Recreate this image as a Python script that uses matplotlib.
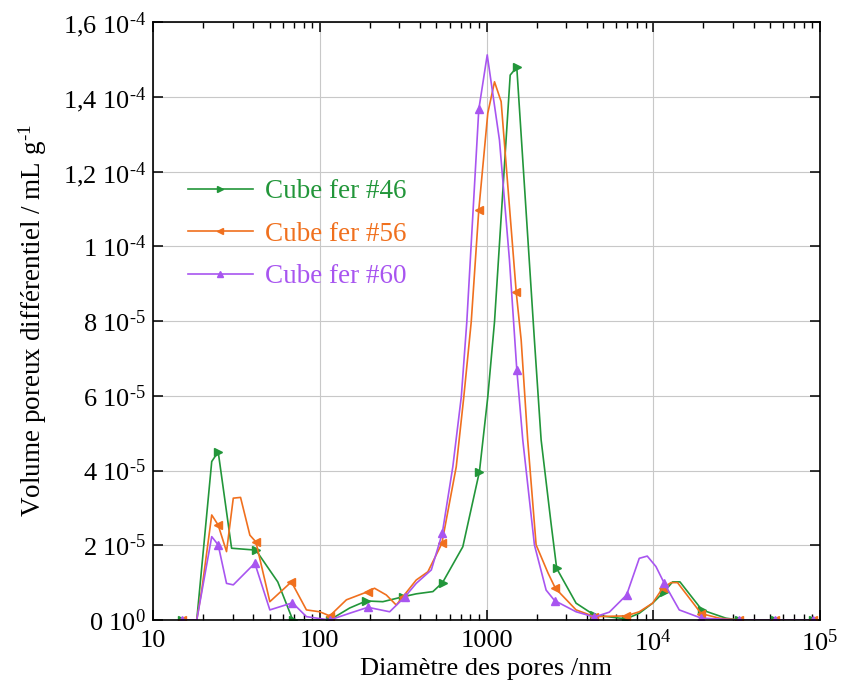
import numpy as np
import matplotlib
matplotlib.use("Agg")
import matplotlib.pyplot as plt
from matplotlib.ticker import LogLocator, NullFormatter

plt.rcParams['font.family'] = ['Liberation Serif', 'DejaVu Serif']
plt.rcParams['mathtext.fontset'] = 'custom'
plt.rcParams['mathtext.rm'] = 'Liberation Serif'
plt.rcParams['mathtext.default'] = 'regular'

# pore diameter (nm) and differential volume (x 1e-5 mL/g)
d46 = [15, 18.3, 22.5, 24.6, 29.6, 41.4, 56.0, 68.9, 114.8, 151, 190, 239, 315, 379, 477,
       545, 721, 907, 1018, 1117, 1387, 1519, 1938, 2126, 2438, 2636, 3445, 4436, 6864,
       8243, 9909, 11650, 13060, 14460, 19570, 27230, 32500, 54000, 90200]
v46 = [0, 0, 4.24, 4.50, 1.92, 1.87, 1.02, 0, 0, 0.32, 0.51, 0.49, 0.62, 0.70, 0.76,
       1.00, 1.96, 3.97, 5.97, 7.98, 14.58, 14.79, 7.49, 4.82, 2.59, 1.38, 0.45, 0.13, 0.03,
       0.18, 0.45, 0.76, 1.02, 1.02, 0.27, 0.05, 0, 0, 0]
m46 = [0, 3, 5, 7, 8, 10, 12, 15, 17, 21, 25, 27, 28, 31, 34, 36, 37, 38]

d56 = [15, 18.3, 19.6, 22.5, 24.6, 27.6, 30.3, 33.5, 38.1, 41.4, 50.2, 67.6, 83.2, 100,
       114.8, 144.5, 194.5, 213, 250.6, 287.6, 315, 379, 445, 540, 658.5, 731, 810, 899,
       1018, 1117, 1224, 1507, 1614, 1766, 1984, 2342, 2588, 3445, 4436, 6864, 8243, 9909,
       11370, 12760, 13980, 19400, 24850, 32500, 54000, 90200]
v56 = [0, 0, 0.80, 2.81, 2.54, 1.83, 3.26, 3.28, 2.27, 2.09, 0.49, 1.02, 0.27, 0.22,
       0.11, 0.54, 0.76, 0.85, 0.67, 0.40, 0.62, 1.07, 1.29, 2.05, 4.10, 5.97, 7.98, 10.97,
       13.56, 14.40, 13.87, 8.78, 7.49, 4.82, 2.01, 1.25, 0.85, 0.27, 0.09, 0.11, 0.22, 0.45,
       0.85, 1.00, 1.00, 0.17, 0.05, 0, 0, 0]
m56 = [0, 4, 9, 11, 14, 16, 20, 23, 27, 31, 36, 38, 39, 42, 45, 47, 48, 49]

d60 = [15, 18.3, 22.5, 24.6, 27.6, 30.3, 40.8, 50.2, 68.6, 83.2, 114.8, 151, 194.5, 262.6,
       322.8, 379, 466.7, 542.9, 628, 706, 762, 899, 1010, 1196, 1373, 1520, 1650, 1938,
       2278, 2560, 3445, 4436, 5452, 6922, 8243, 9204, 10380, 11650, 14320, 19400, 32500,
       54000, 90200]
v60 = [0, 0, 2.23, 2.01, 0.98, 0.94, 1.52, 0.27, 0.46, 0.09, 0, 0.18, 0.34, 0.22,
       0.61, 0.98, 1.34, 2.32, 4.10, 5.97, 7.98, 13.66, 15.12, 12.84, 9.63, 6.69, 4.82, 2.01,
       0.80, 0.52, 0.22, 0.08, 0.21, 0.67, 1.65, 1.71, 1.43, 0.98, 0.27, 0.05, 0, 0, 0]
m60 = [0, 3, 6, 8, 10, 12, 14, 17, 21, 25, 29, 31, 33, 37, 39, 40, 41, 42]

labels = ['Cube fer #46', 'Cube fer #56', 'Cube fer #60']

yticks = [0, 2, 4, 6, 8, 10, 12, 14, 16]
ylabels = ['0 10$^0$', r'2 10$^{\text{-}5}$', r'4 10$^{\text{-}5}$', r'6 10$^{\text{-}5}$',
           r'8 10$^{\text{-}5}$', r'1 10$^{\text{-}4}$', r'1,2 10$^{\text{-}4}$',
           r'1,4 10$^{\text{-}4}$', r'1,6 10$^{\text{-}4}$']
xticks = [10, 100, 1000, 1e4, 1e5]
xlabels = ['10', '100', '1000', '10$^4$', '10$^5$']

fig = plt.figure(figsize=(8.49, 6.86), dpi=100)
ax = fig.add_axes([153 / 849, 66 / 686, 667 / 849, 598 / 686])

series = [
    (d46, v46, m46, '#22963a', '>'),
    (d56, v56, m56, '#f0701e', '<'),
    (d60, v60, m60, '#a855f0', '^'),
]
for (d, v, m, c, mk), lab in zip(series, labels):
    ax.plot(d, np.array(v) * 1e-5, color=c, lw=1.2, marker=mk, markevery=m,
            markersize=6, label=lab)

ax.set_xscale('log')
ax.set_xlim(10, 1e5)
ax.set_ylim(0, 1.6e-4)
ax.set_xticks(xticks)
ax.set_xticklabels(xlabels)
ax.xaxis.set_minor_locator(LogLocator(base=10, subs=np.arange(2, 10), numticks=20))
ax.xaxis.set_minor_formatter(NullFormatter())
ax.set_yticks(np.array(yticks) * 1e-5)
ax.set_yticklabels(ylabels)

ax.grid(True, which='major', color='#c8c8c8', lw=0.8)
ax.tick_params(which='both', direction='in', top=True, right=True, labelsize=19)
ax.tick_params(axis='y', pad=5)
ax.tick_params(axis='x', pad=7)
ax.tick_params(which='major', length=7, width=1.1)
ax.tick_params(which='minor', length=4, width=1.0)
for s in ax.spines.values():
    s.set_linewidth(1.2)

ax.set_xlabel('Diamètre des pores /nm', fontsize=19, labelpad=1)
ax.set_ylabel('Volume poreux différentiel / mL g$^{\\text{-}1}$', fontsize=19.5, labelpad=10)

ax.legend(loc='upper left', bbox_to_anchor=(0.052, 0.737), frameon=False, fontsize=19.5,
          handlelength=2.4, numpoints=1, markerscale=0.7, labelspacing=0.65,
          borderpad=0, borderaxespad=0, handletextpad=0.45, labelcolor='linecolor')

fig.savefig('out.png', dpi=100)
